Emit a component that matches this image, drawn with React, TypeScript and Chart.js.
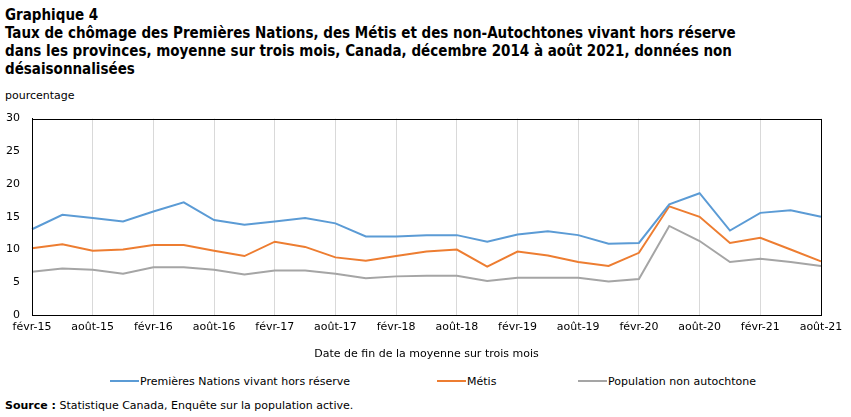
import React, { useEffect, useRef } from "react";
import { Chart, registerables } from "chart.js";

Chart.register(...registerables);

const categories = [
  "févr-15", "mai-15", "août-15", "nov-15",
  "févr-16", "mai-16", "août-16", "nov-16",
  "févr-17", "mai-17", "août-17", "nov-17",
  "févr-18", "mai-18", "août-18", "nov-18",
  "févr-19", "mai-19", "août-19", "nov-19",
  "févr-20", "mai-20", "août-20", "nov-20",
  "févr-21", "mai-21", "août-21",
];

const premieresNations = [13.1, 15.3, 14.8, 14.3, 15.8, 17.2, 14.5, 13.8, 14.3, 14.8, 14.0, 12.0, 12.0, 12.2, 12.2, 11.2, 12.3, 12.8, 12.2, 10.9, 11.0, 16.9, 18.6, 12.9, 15.6, 16.0, 15.0];
const metis = [10.2, 10.8, 9.8, 10.0, 10.7, 10.7, 9.8, 9.0, 11.2, 10.4, 8.8, 8.3, 9.0, 9.7, 10.0, 7.4, 9.7, 9.1, 8.1, 7.5, 9.5, 16.6, 15.0, 11.0, 11.8, 10.0, 8.2];
const nonAutochtone = [6.6, 7.1, 6.9, 6.3, 7.3, 7.3, 6.9, 6.2, 6.8, 6.8, 6.3, 5.6, 5.9, 6.0, 6.0, 5.2, 5.7, 5.7, 5.7, 5.1, 5.5, 13.6, 11.3, 8.1, 8.6, 8.1, 7.5];

const seriesNames = ["Premières Nations vivant hors réserve", "Métis", "Population non autochtone"];
const seriesColors = ["#5B9BD5", "#ED7D31", "#A5A5A5"];

const titleLines = [
  "Graphique 4",
  "Taux de chômage des Premières Nations, des Métis et des non-Autochtones vivant hors réserve",
  "dans les provinces, moyenne sur trois mois, Canada, décembre 2014 à août 2021, données non",
  "désaisonnalisées",
];
const yUnit = "pourcentage";
const xTitle = "Date de fin de la moyenne sur trois mois";

const TITLE_FONT = '"DejaVu Sans Condensed", "DejaVu Sans", sans-serif';
const FONT = '"DejaVu Sans", Verdana, sans-serif';

const frame = {
  id: "frame",
  afterDatasetsDraw(chart: any) {
    const { ctx, chartArea } = chart;
    ctx.save();
    ctx.strokeStyle = "#000";
    ctx.lineWidth = 1;
    ctx.strokeRect(
      Math.round(chartArea.left) + 0.5,
      Math.round(chartArea.top) + 0.5,
      Math.round(chartArea.right - chartArea.left),
      Math.round(chartArea.bottom - chartArea.top)
    );
    ctx.restore();
  },
};

export default function App() {
  const ref = useRef<HTMLCanvasElement | null>(null);

  useEffect(() => {
    document.body.style.margin = "0";
    const c = ref.current;
    if (!c) return;
    const data = [premieresNations, metis, nonAutochtone];
    const chart = new Chart(c, {
      type: "line",
      data: {
        labels: categories,
        datasets: data.map((d, i) => ({
          label: seriesNames[i],
          data: d,
          borderColor: seriesColors[i],
          backgroundColor: seriesColors[i],
          borderWidth: 2,
          pointRadius: 0,
          tension: 0,
          fill: false,
        })),
      },
      options: {
        animation: false,
        responsive: false,
        maintainAspectRatio: false,
        layout: { padding: { top: 18, right: 30, bottom: 0, left: 0 } },
        plugins: {
          legend: { display: false },
          tooltip: { enabled: false },
          title: { display: false },
        },
        scales: {
          x: {
            afterFit: (s: any) => { s.height = 50; },
            grid: {
              drawTicks: false,
              color: (ctx: any) => (ctx.index % 2 === 0 ? "#d9d9d9" : "rgba(0,0,0,0)"),
              lineWidth: 1,
            },
            border: { color: "#000", width: 1 },
            ticks: {
              autoSkip: false,
              maxRotation: 0,
              padding: 6,
              color: "#000",
              font: { family: FONT, size: 11 },
              callback: (_v: any, i: number) => (i % 2 === 0 ? categories[i] : ""),
            },
            title: {
              display: true,
              text: xTitle,
              color: "#000",
              font: { family: FONT, size: 11 },
              padding: { top: 0, bottom: 4 },
            },
          },
          y: {
            min: 0,
            max: 30,
            afterFit: (s: any) => { s.width = 32; },
            grid: { display: false, drawTicks: false },
            border: { color: "#000", width: 1 },
            ticks: {
              stepSize: 5,
              padding: 12,
              color: "#000",
              font: { family: FONT, size: 11 },
            },
          },
        },
      },
      plugins: [frame],
    });
    return () => chart.destroy();
  }, []);

  const legendPos = [110, 437, 578];

  return (
    <div style={{ position: "relative", width: 851, height: 417, fontFamily: FONT, color: "#000", overflow: "hidden" }}>
      <div style={{ position: "absolute", left: 5, top: 6, fontFamily: TITLE_FONT, fontWeight: "bold", fontSize: 15, lineHeight: "18px", whiteSpace: "nowrap" }}>
        {titleLines.map((t, i) => (
          <div key={i}>{t}</div>
        ))}
      </div>
      <div style={{ position: "absolute", left: 5, top: 89, fontSize: 11, lineHeight: "14px" }}>{yUnit}</div>
      <canvas ref={ref} width={851} height={265} style={{ position: "absolute", left: 0, top: 100, width: 851, height: 265 }} />
      {seriesNames.map((n, i) => (
        <div key={i} style={{ position: "absolute", left: legendPos[i], top: 374, height: 14, display: "flex", alignItems: "center", fontSize: 11, whiteSpace: "nowrap" }}>
          <span style={{ display: "inline-block", width: 29, height: 2, background: seriesColors[i], marginRight: 1 }} />
          <span>{n}</span>
        </div>
      ))}
      <div style={{ position: "absolute", left: 5, top: 399, fontSize: 11, lineHeight: "14px", whiteSpace: "nowrap" }}>
        <b>Source :</b> Statistique Canada, Enquête sur la population active.
      </div>
    </div>
  );
}
